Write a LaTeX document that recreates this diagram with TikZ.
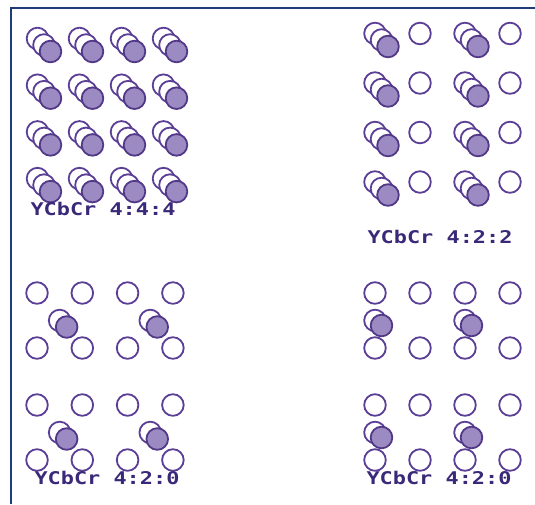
\documentclass[tikz,border=0pt]{standalone}
\usepackage{fontspec}
\setmonofont{DejaVu Sans Mono}
\definecolor{framecol}{HTML}{1F3C78}
\definecolor{ringcol}{HTML}{5B3F96}
\definecolor{fillcol}{HTML}{9C8BC3}
\definecolor{textcol}{HTML}{3A2878}
\tikzset{
  ysamp/.style={draw=ringcol, line width=1.8pt, fill=white},
  cbsamp/.style={draw=ringcol, line width=1.8pt, fill=white},
  crsamp/.style={draw=ringcol!90!black, line width=1.8pt, fill=fillcol},
  frameline/.style={draw=framecol, line width=2.4pt},
  caption/.style={text=textcol, font=\ttfamily\bfseries\fontsize{17.5}{17.5}\selectfont, inner sep=0pt}
}
\begin{document}
\begin{tikzpicture}[x=1pt,y=-1pt]
\useasboundingbox[fill=white] (0,0) rectangle (535,504);
% frame
\coordinate (fbl) at (11,504);
\coordinate (ftl) at (11,8);
\coordinate (ftr) at (535,8);
\draw[frameline] (fbl) -- (ftl) -- (ftr);
\def\rr{10.8}
% ---------- 4:4:4 ----------
\foreach \i in {0,...,3}{
  \foreach \j in {0,...,3}{
    \pgfmathsetmacro{\px}{37.5+42*\i}
    \pgfmathsetmacro{\py}{38.5+46.7*\j}
    \draw[ysamp]  (\px,\py) circle (\rr);
    \draw[cbsamp] (\px+6.5,\py+6.5) circle (\rr);
    \draw[crsamp] (\px+13,\py+13) circle (\rr);
  }
}
\node[caption] (l444) at (103,209) {\scalebox{1.25}[1]{YCbCr 4:4:4}};
% ---------- 4:2:2 ----------
\foreach \j in {0,...,3}{
  \pgfmathsetmacro{\py}{33.5+49.5*\j}
  \foreach \i in {0,2}{
    \pgfmathsetmacro{\px}{375+45*\i}
    \draw[ysamp]  (\px,\py) circle (\rr);
    \draw[cbsamp] (\px+6.5,\py+6.5) circle (\rr);
    \draw[crsamp] (\px+13,\py+13) circle (\rr);
  }
  \foreach \i in {1,3}{
    \pgfmathsetmacro{\px}{375+45*\i}
    \draw[ysamp] (\px,\py) circle (\rr);
  }
}
\node[caption] (l422) at (440,237) {\scalebox{1.25}[1]{YCbCr 4:2:2}};
% ---------- 4:2:0 (left, interstitial) ----------
\foreach \ya/\yb in {293/348,405/460}{
  \foreach \i in {0,...,3}{
    \pgfmathsetmacro{\px}{37+45.3*\i}
    \draw[ysamp] (\px,\ya) circle (\rr);
    \draw[ysamp] (\px,\yb) circle (\rr);
  }
  \foreach \i in {0,2}{
    \pgfmathsetmacro{\cx}{37+45.3*\i+22.65}
    \pgfmathsetmacro{\cy}{(\ya+\yb)/2}
    \draw[cbsamp] (\cx,\cy) circle (\rr);
    \draw[crsamp] (\cx+7,\cy+6.5) circle (\rr);
  }
}
\node[caption] (l420a) at (107,478) {\scalebox{1.25}[1]{YCbCr 4:2:0}};
% ---------- 4:2:0 (right, co-sited) ----------
\foreach \ya/\yb in {293/348,405/460}{
  \foreach \i in {0,...,3}{
    \pgfmathsetmacro{\px}{375+45*\i}
    \draw[ysamp] (\px,\ya) circle (\rr);
    \draw[ysamp] (\px,\yb) circle (\rr);
  }
  \foreach \i in {0,2}{
    \pgfmathsetmacro{\cx}{375+45*\i}
    \pgfmathsetmacro{\cy}{(\ya+\yb)/2}
    \draw[cbsamp] (\cx,\cy) circle (\rr);
    \draw[crsamp] (\cx+6.5,\cy+5) circle (\rr);
  }
}
\node[caption] (l420b) at (439,478) {\scalebox{1.25}[1]{YCbCr 4:2:0}};
\end{tikzpicture}
\end{document}
